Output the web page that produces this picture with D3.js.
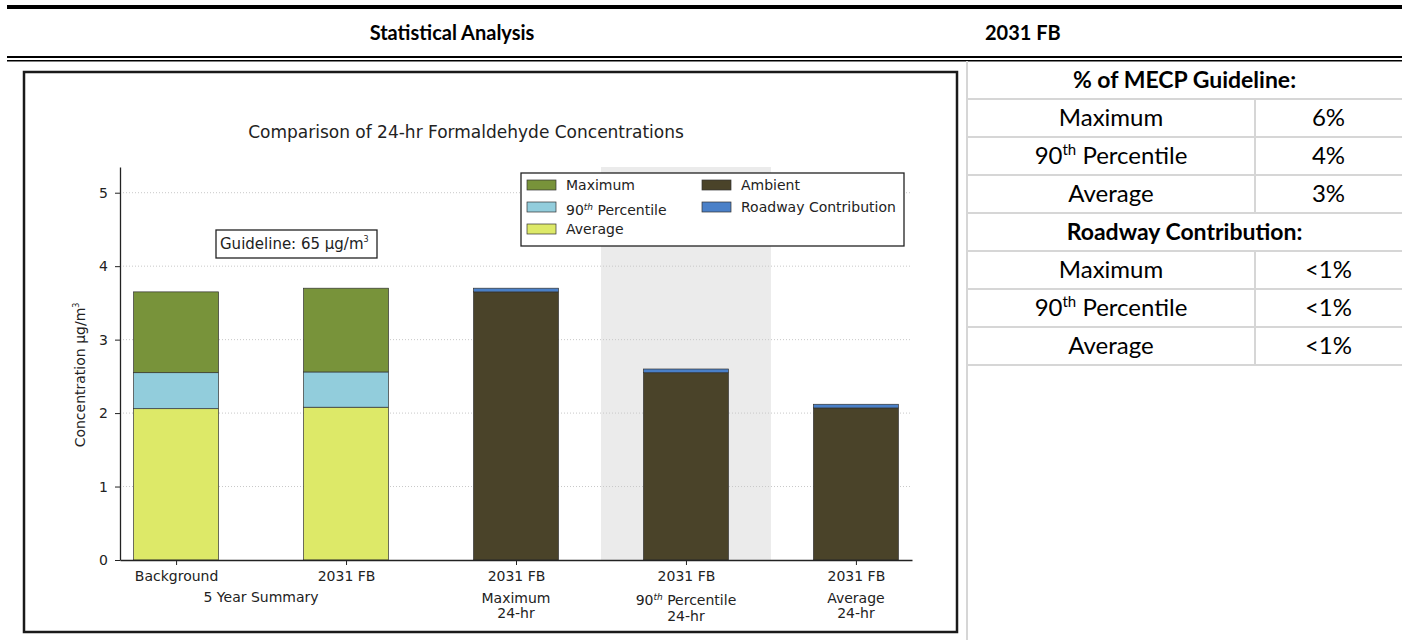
<!DOCTYPE html>
<html>
<head>
<meta charset="utf-8">
<script src="https://cdn.jsdelivr.net/npm/d3@7"></script>
<style>
  body { margin: 0; background: #fff; }
  svg { display: block; }
  .mpl text { font-family: "DejaVu Sans", sans-serif; fill: #222; }
  .doc text { font-family: Lato, "Open Sans", sans-serif; fill: #000; }
</style>
</head>
<body>
<div id="chart"></div>
<script>
// chart data
const categories = ['Background', '2031 FB', '2031 FB', '2031 FB', '2031 FB'];
const summaryAvg = [2.06, 2.08];
const summaryP90 = [2.55, 2.56];
const summaryMax = [3.65, 3.70];
const ambient = [3.65, 2.55, 2.07];
const roadway = [0.05, 0.05, 0.05];
const yTicks = [0, 1, 2, 3, 4, 5];

// table data
const guidelineLabels = ['Maximum', '90th Percentile', 'Average'];
const guidelineValues = ['6%', '4%', '3%'];
const roadwayLabels = ['Maximum', '90th Percentile', 'Average'];
const roadwayValues = ['<1%', '<1%', '<1%'];

const colors = {
  max: '#78933a',
  p90: '#92cddc',
  avg: '#dde968',
  ambient: '#4a4329',
  roadway: '#4a80c8'
};

const W = 1402;
const H = 640;

const svg = d3.select('#chart').append('svg')
  .attr('width', W)
  .attr('height', H);

// ---- document frame ----
const doc = svg.append('g').attr('class', 'doc');

doc.append('rect').attr('x', 7).attr('y', 5).attr('width', W - 7).attr('height', 4).attr('fill', '#000');
doc.append('rect').attr('x', 7).attr('y', 56).attr('width', W - 7).attr('height', 2).attr('fill', '#000');
doc.append('rect').attr('x', 7).attr('y', 60).attr('width', W - 7).attr('height', 1.5).attr('fill', '#000');

doc.append('text')
  .attr('x', 452).attr('y', 40)
  .attr('text-anchor', 'middle')
  .attr('font-weight', 'bold')
  .attr('font-size', 20)
  .text('Statistical Analysis');

doc.append('text')
  .attr('x', 985).attr('y', 40)
  .attr('font-weight', 'bold')
  .attr('font-size', 20)
  .text('2031 FB');

// ---- table on the right ----
const rowKeys = ['h1', 'g0', 'g1', 'g2', 'h2', 'r0', 'r1', 'r2'];
const rowScale = d3.scaleBand().domain(rowKeys).range([61, 365]);
const tX0 = 967, tX1 = 1255, tX2 = W;
const gridColor = '#d6d6d6';

doc.append('line')
  .attr('x1', tX0).attr('x2', tX0).attr('y1', 61).attr('y2', H)
  .attr('stroke', gridColor).attr('stroke-width', 2);

rowKeys.forEach(k => {
  const yb = rowScale(k) + rowScale.bandwidth();
  doc.append('line')
    .attr('x1', tX0).attr('x2', tX2).attr('y1', yb).attr('y2', yb)
    .attr('stroke', gridColor).attr('stroke-width', 2);
  if (k[0] !== 'h') {
    doc.append('line')
      .attr('x1', tX1).attr('x2', tX1).attr('y1', rowScale(k)).attr('y2', yb)
      .attr('stroke', gridColor).attr('stroke-width', 2);
  }
});

function cellText(x, key, txt, bold) {
  const t = doc.append('text')
    .attr('x', x)
    .attr('y', rowScale(key) + rowScale.bandwidth() / 2 + 8)
    .attr('text-anchor', 'middle')
    .attr('font-size', bold ? 23 : 24)
    .attr('font-weight', bold ? 'bold' : 'normal');
  const m = txt.match(/^(\d+)th (.*)$/);
  if (m) {
    t.append('tspan').text(m[1]);
    t.append('tspan').attr('font-size', 15).attr('dy', -9).text('th');
    t.append('tspan').attr('dy', 9).text(' ' + m[2]);
  } else {
    t.text(txt);
  }
}

cellText((tX0 + tX2) / 2, 'h1', '% of MECP Guideline:', true);
cellText((tX0 + tX2) / 2, 'h2', 'Roadway Contribution:', true);
guidelineLabels.forEach((d, i) => {
  cellText((tX0 + tX1) / 2, 'g' + i, d);
  cellText((tX1 + tX2) / 2, 'g' + i, guidelineValues[i]);
});
roadwayLabels.forEach((d, i) => {
  cellText((tX0 + tX1) / 2, 'r' + i, d);
  cellText((tX1 + tX2) / 2, 'r' + i, roadwayValues[i]);
});

// ---- chart image ----
const chart = svg.append('g').attr('class', 'mpl');

chart.append('rect')
  .attr('x', 24).attr('y', 72)
  .attr('width', 957 - 24).attr('height', 632 - 72)
  .attr('fill', '#fff')
  .attr('stroke', '#1a1a1a')
  .attr('stroke-width', 2.5);

const x = d3.scaleLinear().domain([-0.33, 4.33]).range([120, 912]);
const y = d3.scaleLinear().domain([0, 5.35]).range([560, 167]);
const barW = x(0.5) - x(0);

// shaded band behind the 90th percentile bar
chart.append('rect')
  .attr('x', x(2.5)).attr('y', y(5.35))
  .attr('width', x(3.5) - x(2.5)).attr('height', y(0) - y(5.35))
  .attr('fill', '#ebebeb');

// grid
chart.append('g')
  .selectAll('line')
  .data(yTicks.filter(d => d > 0))
  .join('line')
  .attr('x1', x(-0.33)).attr('x2', x(4.33))
  .attr('y1', d => y(d)).attr('y2', d => y(d))
  .attr('stroke', '#c8c8c8')
  .attr('stroke-width', 1)
  .attr('stroke-dasharray', '1,2');

chart.append('text')
  .attr('x', 466).attr('y', 138)
  .attr('text-anchor', 'middle')
  .attr('font-size', 17)
  .text('Comparison of 24-hr Formaldehyde Concentrations');

// summary bars (stacked segments)
const summary = summaryAvg.map((d, i) => ({
  i,
  segs: [
    { y0: 0, y1: summaryAvg[i], c: colors.avg },
    { y0: summaryAvg[i], y1: summaryP90[i], c: colors.p90 },
    { y0: summaryP90[i], y1: summaryMax[i], c: colors.max }
  ]
}));

// modelled bars
const modelled = ambient.map((d, i) => ({
  i: i + 2,
  segs: [
    { y0: 0, y1: ambient[i], c: colors.ambient },
    { y0: ambient[i], y1: ambient[i] + roadway[i], c: colors.roadway }
  ]
}));

const bars = chart.append('g');
summary.concat(modelled).forEach(b => {
  bars.append('g')
    .selectAll('rect')
    .data(b.segs)
    .join('rect')
    .attr('x', x(b.i) - barW / 2)
    .attr('width', barW)
    .attr('y', d => y(d.y1))
    .attr('height', d => y(d.y0) - y(d.y1))
    .attr('fill', d => d.c)
    .attr('stroke', '#333')
    .attr('stroke-width', 0.7);
});

// axes
const yAxis = d3.axisLeft(y)
  .tickValues(yTicks)
  .tickFormat(d3.format('d'))
  .tickSize(5)
  .tickSizeOuter(0)
  .tickPadding(7);
const gy = chart.append('g')
  .attr('transform', `translate(${x(-0.33)},0)`)
  .call(yAxis);

const xAxis = d3.axisBottom(x)
  .tickValues([0, 1, 2, 3, 4])
  .tickFormat(i => categories[i])
  .tickSize(5)
  .tickSizeOuter(0)
  .tickPadding(6);
const gx = chart.append('g')
  .attr('transform', `translate(0,${y(0)})`)
  .call(xAxis);

[gx, gy].forEach(g => {
  g.select('.domain').attr('stroke', '#222').attr('stroke-width', 1.3);
  g.selectAll('.tick line').attr('stroke', '#222');
  g.selectAll('.tick text')
    .attr('font-family', '"DejaVu Sans", sans-serif')
    .attr('font-size', 14)
    .attr('fill', '#222');
});

// second / third lines of x labels
const subLines = [
  { at: 0.5, dy: 602, parts: [['5 Year Summary']] },
  { at: 2, dy: 603, parts: [['Maximum']] },
  { at: 2, dy: 618, parts: [['24-hr']] },
  { at: 3, dy: 605, parts: [['90'], ['th', 'sup'], [' Percentile']] },
  { at: 3, dy: 621, parts: [['24-hr']] },
  { at: 4, dy: 603, parts: [['Average']] },
  { at: 4, dy: 618, parts: [['24-hr']] }
];

function richText(t, parts) {
  parts.forEach((p, k) => {
    if (p[1] === 'sup') {
      t.append('tspan').attr('font-size', 9).attr('font-style', 'italic').attr('dy', -5).text(p[0]);
    } else {
      t.append('tspan').attr('dy', k > 0 && parts[k - 1][1] === 'sup' ? 5 : 0).text(p[0]);
    }
  });
}

subLines.forEach(s => {
  const t = chart.append('text')
    .attr('x', x(s.at)).attr('y', s.dy)
    .attr('text-anchor', 'middle')
    .attr('font-size', 14);
  richText(t, s.parts);
});

// y label
chart.append('text')
  .attr('transform', 'translate(85,375) rotate(-90)')
  .attr('text-anchor', 'middle')
  .attr('font-size', 14)
  .text('Concentration µg/m')
  .append('tspan').attr('font-size', 8).attr('dy', -6).text('3');

// guideline box
chart.append('rect')
  .attr('x', 216).attr('y', 230).attr('width', 161).attr('height', 28)
  .attr('fill', '#fff').attr('stroke', '#222').attr('stroke-width', 1.3);
chart.append('text')
  .attr('x', 220).attr('y', 249)
  .attr('font-size', 15)
  .text('Guideline: 65 µg/m')
  .append('tspan').attr('font-size', 8).attr('dy', -7).text('3');

// legend
const legend = chart.append('g');
legend.append('rect')
  .attr('x', 521).attr('y', 173).attr('width', 383).attr('height', 73)
  .attr('fill', '#fff').attr('stroke', '#222').attr('stroke-width', 1.3);

const legendItems = [
  { label: [['Maximum']], c: colors.max, col: 0, row: 0 },
  { label: [['90'], ['th', 'sup'], [' Percentile']], c: colors.p90, col: 0, row: 1 },
  { label: [['Average']], c: colors.avg, col: 0, row: 2 },
  { label: [['Ambient']], c: colors.ambient, col: 1, row: 0 },
  { label: [['Roadway Contribution']], c: colors.roadway, col: 1, row: 1 }
];
const colX = [527, 702];
const rowY = [185, 207, 229];
legendItems.forEach(d => {
  legend.append('rect')
    .attr('x', colX[d.col]).attr('y', rowY[d.row] - 5)
    .attr('width', 29).attr('height', 10)
    .attr('fill', d.c).attr('stroke', '#333').attr('stroke-width', 0.7);
  const t = legend.append('text')
    .attr('x', colX[d.col] + 39).attr('y', rowY[d.row] + 5 + (d.row === 1 && d.col === 0 ? 3 : 0))
    .attr('font-size', 14);
  richText(t, d.label);
});
</script>
</body>
</html>
